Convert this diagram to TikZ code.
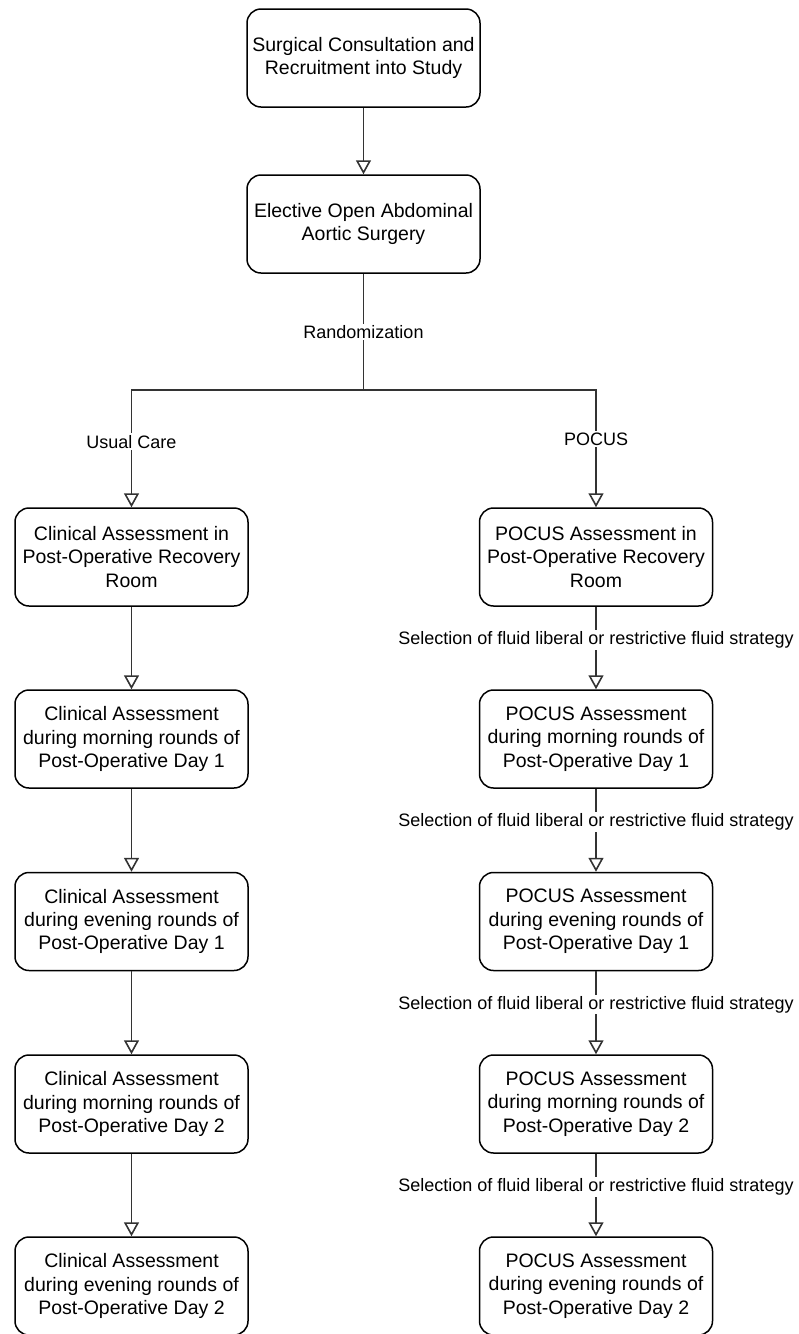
\documentclass[tikz,border=0pt]{standalone}
\usepackage{fontspec}
\setmainfont{Liberation Sans}
\usetikzlibrary{arrows.meta}

\tikzset{
  stage/.style={draw=black, line width=1.5pt, rounded corners=14pt, fill=white,
    minimum width=233pt, minimum height=98pt, align=center, inner sep=2pt,
    font=\fontsize{19.5}{23.4}\selectfont},
  link/.style={draw=black!80, line width=1.6pt},
  flow/.style={link, -{Triangle[open, width=15pt, length=14pt]}},
  tag/.style={fill=white, inner sep=1.5pt, font=\fontsize{18}{21.6}\selectfont}
}

\begin{document}
\begin{tikzpicture}[x=1pt,y=-1pt]
\useasboundingbox (0,0) rectangle (799,1334);

\node[stage] (recruit) at (363.5,58) {Surgical Consultation and\\Recruitment into Study};
\node[stage] (surgery) at (363.5,224) {Elective Open Abdominal\\Aortic Surgery};
\coordinate (split) at (363.5,390);

% usual care arm
\node[stage] (care0) at (131.5,557) {Clinical Assessment in\\Post-Operative Recovery\\Room};
\node[stage] (care1) at (131.5,739) {Clinical Assessment\\during morning rounds of\\Post-Operative Day 1};
\node[stage] (care2) at (131.5,921.5) {Clinical Assessment\\during evening rounds of\\Post-Operative Day 1};
\node[stage] (care3) at (131.5,1104) {Clinical Assessment\\during morning rounds of\\Post-Operative Day 2};
\node[stage] (care4) at (131.5,1286) {Clinical Assessment\\during evening rounds of\\Post-Operative Day 2};

% pocus arm
\node[stage] (pocus0) at (596,557) {POCUS Assessment in\\Post-Operative Recovery\\Room};
\node[stage] (pocus1) at (596,739) {POCUS Assessment\\during morning rounds of\\Post-Operative Day 1};
\node[stage] (pocus2) at (596,921.5) {POCUS Assessment\\during evening rounds of\\Post-Operative Day 1};
\node[stage] (pocus3) at (596,1104) {POCUS Assessment\\during morning rounds of\\Post-Operative Day 2};
\node[stage] (pocus4) at (596,1286) {POCUS Assessment\\during evening rounds of\\Post-Operative Day 2};

\draw[flow] (recruit) -- (surgery);
\draw[link] (surgery) -- node[tag] {Randomization} (split);
\draw[flow] (split) -| node[tag, pos=0.72] {Usual Care} (care0);
\draw[flow] (split) -| node[tag, pos=0.71] {POCUS} (pocus0);

\draw[flow] (care0) -- (care1);
\draw[flow] (care1) -- (care2);
\draw[flow] (care2) -- (care3);
\draw[flow] (care3) -- (care4);

\foreach \a/\b in {0/1,1/2,2/3,3/4}
  \draw[flow] (pocus\a) -- node[tag, pos=0.4] {Selection of fluid liberal or restrictive fluid strategy} (pocus\b);
\end{tikzpicture}
\end{document}
